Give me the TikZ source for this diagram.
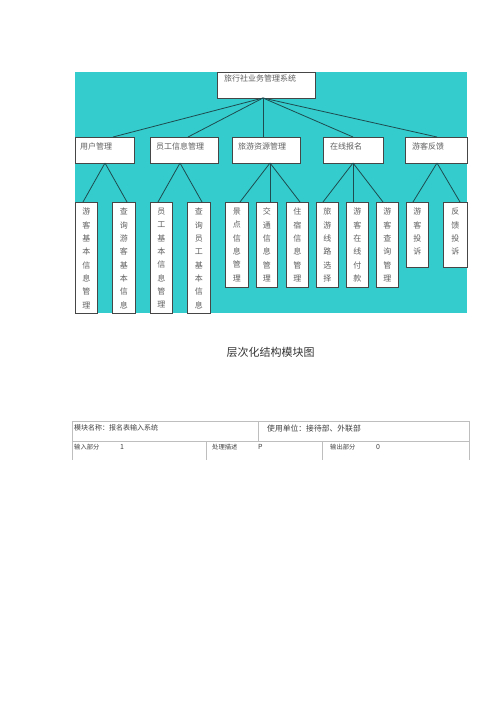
\documentclass[tikz,border=0pt]{standalone}
\usepackage{fontspec}
\setmainfont{Noto Sans CJK SC}
\definecolor{cyanbg}{RGB}{52,204,204}
\definecolor{linec}{RGB}{30,75,80}
\definecolor{boxc}{RGB}{70,70,70}
\definecolor{txtc}{RGB}{95,95,95}
\definecolor{tabc}{RGB}{190,190,190}
\begin{document}
\begin{tikzpicture}[x=1pt,y=-1pt,
  box/.style={draw=boxc,line width=0.7pt,fill=white,inner sep=0pt,anchor=north west},
  lbl/.style={inner sep=0pt,anchor=west,text=txtc,font=\fontsize{8}{9}\selectfont},
  vtxt/.style={inner sep=0pt,anchor=north,align=center,text=txtc,font=\fontsize{8}{13.3}\selectfont},
  conn/.style={draw=linec,line width=0.8pt},
  tab/.style={draw=tabc,line width=0.6pt},
  ttxt/.style={inner sep=0pt,anchor=west,text=black!75,font=\fontsize{7}{8}\selectfont}]
\useasboundingbox (0,0) rectangle (500,707);
\fill[cyanbg] (74.5,72) rectangle (467,313);
% top
\node[box,minimum width=98,minimum height=26] (top) at (217,72) {};
\node[lbl] (topt) at (224,78) {旅行社业务管理系统};
\coordinate (topb) at (263,98);
% level 1
\node[box,minimum width=59,minimum height=26] (u) at (75,137) {};
\node[box,minimum width=68,minimum height=26] (y) at (150,137) {};
\node[box,minimum width=68,minimum height=26] (l) at (232,137) {};
\node[box,minimum width=60,minimum height=26] (z) at (323,137) {};
\node[box,minimum width=62,minimum height=26] (f) at (405,137) {};
\node[lbl] (ut) at (80,146) {用户管理};
\node[lbl] (yt) at (156,146) {员工信息管理};
\node[lbl] (lt) at (238,146) {旅游资源管理};
\node[lbl] (zt) at (330,146) {在线报名};
\node[lbl] (ft) at (412,146) {游客反馈};
\coordinate (ua) at (113,137);
\coordinate (ya) at (188,137);
\coordinate (la) at (263,137);
\coordinate (za) at (353,137);
\coordinate (fa) at (437,137);
\foreach \t in {ua,ya,la,za,fa} \draw[conn] (topb) -- (\t);
% apexes at bottom of level 1
\coordinate (ub) at (105,163);
\coordinate (yb) at (180,163);
\coordinate (lb) at (270,163);
\coordinate (zb) at (353,163);
\coordinate (fb) at (437,163);
% level 2 boxes
\node[box,minimum width=22,minimum height=111] (b1) at (75,202) {};
\node[box,minimum width=23,minimum height=111] (b2) at (112,202) {};
\node[box,minimum width=22,minimum height=111] (b3) at (150,202) {};
\node[box,minimum width=23,minimum height=111] (b4) at (187,202) {};
\node[box,minimum width=23,minimum height=85] (b5) at (225,202) {};
\node[box,minimum width=21,minimum height=85] (b6) at (256,202) {};
\node[box,minimum width=22,minimum height=85] (b7) at (286,202) {};
\node[box,minimum width=22,minimum height=85] (b8) at (316,202) {};
\node[box,minimum width=22,minimum height=85] (b9) at (346,202) {};
\node[box,minimum width=22,minimum height=85] (b10) at (376,202) {};
\node[box,minimum width=22,minimum height=65] (b11) at (406,202) {};
\node[box,minimum width=24,minimum height=65] (b12) at (443,202) {};
\node[vtxt] (b1t) at (b1.north |- 0,208) {游\\客\\基\\本\\信\\息\\管\\理};
\node[vtxt] (b2t) at (b2.north |- 0,208) {查\\询\\游\\客\\基\\本\\信\\息};
\node[vtxt] (b3t) at (b3.north |- 0,208) {员\\工\\基\\本\\信\\息\\管\\理};
\node[vtxt] (b4t) at (b4.north |- 0,208) {查\\询\\员\\工\\基\\本\\信\\息};
\node[vtxt] (b5t) at (b5.north |- 0,208) {景\\点\\信\\息\\管\\理};
\node[vtxt] (b6t) at (b6.north |- 0,208) {交\\通\\信\\息\\管\\理};
\node[vtxt] (b7t) at (b7.north |- 0,208) {住\\宿\\信\\息\\管\\理};
\node[vtxt] (b8t) at (b8.north |- 0,208) {旅\\游\\线\\路\\选\\择};
\node[vtxt] (b9t) at (b9.north |- 0,208) {游\\客\\在\\线\\付\\款};
\node[vtxt] (b10t) at (b10.north |- 0,208) {游\\客\\查\\询\\管\\理};
\node[vtxt] (b11t) at (b11.north |- 0,208) {游\\客\\投\\诉};
\node[vtxt] (b12t) at (b12.north |- 0,208) {反\\馈\\投\\诉};
% level 2 connectors
\draw[conn] (ub) -- (83,202);
\draw[conn] (ub) -- (127,202);
\draw[conn] (yb) -- (158,202);
\draw[conn] (yb) -- (202,202);
\draw[conn] (lb) -- (240,202);
\draw[conn] (lb) -- (270,202);
\draw[conn] (lb) -- (300,202);
\draw[conn] (zb) -- (323,202);
\draw[conn] (zb) -- (353,202);
\draw[conn] (zb) -- (383,202);
\draw[conn] (fb) -- (413,202);
\draw[conn] (fb) -- (460,202);
% caption
\node[inner sep=0pt,text=black!80,font=\fontsize{11}{12}\selectfont] (cap) at (270.5,352) {层次化结构模块图};
% table
\draw[tab] (72,421) -- (469,421);
\draw[tab] (72,441) -- (469,441);
\draw[tab] (72,421) -- (72,460);
\draw[tab] (469,421) -- (469,460);
\draw[tab] (258,421) -- (258,441);
\draw[tab] (206,441) -- (206,460);
\draw[tab] (322,441) -- (322,460);
\node[ttxt] (t1) at (74,428) {模块名称：报名表输入系统};
\node[ttxt,font=\fontsize{7.8}{9}\selectfont] (t2) at (267,429) {使用单位：接待部、外联部};
\node[ttxt,font=\fontsize{6.3}{8}\selectfont] (t3) at (74,447) {输入部分};
\node[ttxt] (t4) at (120,447) {1};
\node[ttxt,font=\fontsize{6.3}{8}\selectfont] (t5) at (212,447) {处理描述};
\node[ttxt] (t6) at (258,447) {P};
\node[ttxt,font=\fontsize{6.3}{8}\selectfont] (t7) at (330,447) {输出部分};
\node[ttxt] (t8) at (376,447) {0};
\end{tikzpicture}
\end{document}
